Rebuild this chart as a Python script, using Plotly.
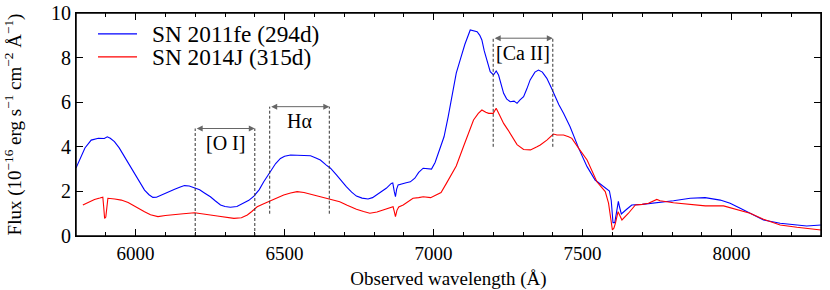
import plotly.graph_objects as go

# ---------------- data ----------------
fe_wave = [5800, 5815, 5830, 5851, 5875, 5895, 5905, 5915, 5929, 5945, 5963, 5980, 5997, 6015, 6030,
           6045, 6058, 6070, 6086, 6110, 6131, 6150, 6164, 6180, 6198, 6215, 6231, 6251, 6268, 6285,
           6300, 6318, 6340, 6363, 6380, 6397, 6415, 6430, 6453, 6470, 6486, 6500, 6520, 6553, 6587,
           6605, 6620, 6640, 6654, 6674, 6690, 6707, 6725, 6741, 6760, 6780, 6795, 6808, 6825, 6841,
           6858, 6863, 6868, 6872, 6876, 6881, 6908, 6922, 6937, 6950, 6965, 6980, 6993, 7005, 7021,
           7035, 7049, 7062, 7076, 7089, 7105, 7123, 7135, 7146, 7155, 7162, 7170, 7179, 7190, 7201,
           7210, 7218, 7225, 7235, 7245, 7257, 7270, 7280, 7290, 7302, 7313, 7324, 7340, 7352, 7365,
           7380, 7395, 7408, 7420, 7436, 7458, 7487, 7515, 7542, 7570, 7590, 7596, 7602, 7608, 7614,
           7620, 7624, 7630, 7648, 7665, 7700, 7749, 7805, 7861, 7911, 7962, 7995, 8029, 8062, 8107,
           8163, 8219, 8252, 8300]
fe_flux = [3.05, 3.5, 3.95, 4.3, 4.38, 4.37, 4.45, 4.38, 4.23, 3.95, 3.56, 3.2, 2.82, 2.42, 2.06,
           1.85, 1.73, 1.74, 1.84, 1.98, 2.1, 2.2, 2.26, 2.24, 2.17, 2.07, 1.93, 1.76, 1.57, 1.39,
           1.32, 1.29, 1.32, 1.47, 1.6, 1.79, 2.08, 2.43, 2.88, 3.25, 3.48, 3.58, 3.63, 3.63, 3.6,
           3.5, 3.41, 3.18, 3.04, 2.74, 2.48, 2.21, 1.97, 1.79, 1.7, 1.66, 1.72, 1.84, 1.98, 2.14,
           2.36, 2.38, 2.0, 1.76, 2.1, 2.29, 2.39, 2.43, 2.59, 2.85, 3.04, 3.02, 3.0, 3.3, 3.95,
           4.45, 5.35, 6.3, 7.3, 7.89, 8.6, 9.24, 9.2, 9.16, 9.0, 8.79, 8.3, 7.89, 7.37, 7.22,
           7.4, 7.22, 6.9, 6.4, 6.15, 6.02, 6.05, 5.95, 6.1, 6.25, 6.6, 7.0, 7.35, 7.44, 7.35,
           7.07, 6.65, 6.25, 5.9, 5.5, 4.9, 3.93, 3.11, 2.51, 2.24, 2.02, 1.6, 0.6, 0.6, 1.2,
           1.55, 1.3, 0.99, 1.2, 1.39, 1.42, 1.49, 1.58, 1.69, 1.72, 1.61, 1.47, 1.24, 1.02, 0.72,
           0.57, 0.49, 0.45, 0.49]

j_wave = [5823, 5840, 5862, 5880, 5890, 5893, 5896, 5900, 5904, 5907, 5930, 5952, 5975, 5997, 6015,
          6030, 6050, 6075, 6100, 6131, 6160, 6198, 6218, 6245, 6274, 6300, 6330, 6355, 6375, 6390,
          6408, 6430, 6453, 6475, 6497, 6520, 6542, 6565, 6587, 6615, 6643, 6660, 6685, 6710, 6741,
          6765, 6786, 6810, 6831, 6850, 6864, 6868, 6872, 6877, 6883, 6898, 6915, 6931, 6950, 6965,
          6990, 7009, 7025, 7043, 7060, 7076, 7100, 7134, 7150, 7162, 7175, 7185, 7200, 7210, 7222,
          7235, 7250, 7263, 7280, 7302, 7325, 7347, 7358, 7380, 7402, 7414, 7436, 7453, 7464, 7487,
          7515, 7548, 7576, 7587, 7594, 7600, 7605, 7610, 7619, 7626, 7632, 7654, 7677, 7700, 7721,
          7749, 7760, 7805, 7861, 7912, 7973, 8006, 8062, 8107, 8163, 8219, 8260, 8300]
j_flux = [1.39, 1.5, 1.64, 1.7, 1.74, 1.3, 0.79, 0.85, 1.5, 1.69, 1.66, 1.61, 1.5, 1.35, 1.2,
          1.09, 0.95, 0.87, 0.92, 0.97, 1.0, 1.04, 0.99, 0.95, 0.9, 0.85, 0.79, 0.82, 0.94, 1.1,
          1.31, 1.45, 1.58, 1.72, 1.84, 1.93, 1.99, 1.95, 1.88, 1.78, 1.69, 1.62, 1.54, 1.38, 1.2,
          1.1, 1.02, 1.08, 1.17, 1.25, 1.31, 1.1, 0.87, 1.15, 1.3, 1.39, 1.55, 1.69, 1.72, 1.76,
          1.72, 1.84, 1.95, 2.36, 2.75, 3.14, 4.0, 5.2, 5.5, 5.65, 5.55, 5.5, 5.5, 5.73, 5.4,
          5.05, 4.75, 4.45, 4.1, 3.88, 3.86, 4.0, 4.08, 4.3, 4.57, 4.53, 4.53, 4.45, 4.38, 3.93,
          3.41, 2.43, 1.99, 1.47, 0.8, 0.27, 0.35, 0.57, 1.09, 0.9, 0.72, 1.02, 1.39, 1.42, 1.47,
          1.64, 1.58, 1.49, 1.43, 1.35, 1.35, 1.24, 1.02, 0.75, 0.49, 0.39, 0.32, 0.27]

series_names = ["SN 2011fe (294d)", "SN 2014J (315d)"]
series_colors = ["#0000ff", "#ff0000"]

line_labels = ["[O I]", "Hα", "[Ca II]"]
line_lo = [6200, 6450, 7200]
line_hi = [6400, 6650, 7400]
line_bottom = [0.0, 1.0, 4.0]
line_top = [4.82, 5.8, 8.87]
label_y = [4.16, 5.17, 8.19]

x_ticks = [6000, 6500, 7000, 7500, 8000]
y_ticks = [0, 2, 4, 6, 8, 10]

FONT = "Liberation Serif"

fig = go.Figure()
for w, f, name, col in zip([fe_wave, j_wave], [fe_flux, j_flux], series_names, series_colors):
    fig.add_trace(go.Scatter(x=w, y=f, mode="lines", name=name, showlegend=False,
                             line=dict(color=col, width=1.1)))

annotations = []
shapes = []
for lab, lo, hi, yb, yt, ly in zip(line_labels, line_lo, line_hi, line_bottom, line_top, label_y):
    for xv in (lo, hi):
        shapes.append(dict(type="line", xref="x", yref="y", x0=xv, x1=xv, y0=yb, y1=yt,
                           line=dict(color="#333333", width=1, dash="3px,2px")))
    annotations.append(dict(x=hi, y=yt, ax=lo, ay=yt, xref="x", yref="y", axref="x", ayref="y",
                            text="", showarrow=True, arrowside="end+start", arrowhead=2,
                            startarrowhead=2, arrowsize=1.2, arrowwidth=1, arrowcolor="#666666"))
    annotations.append(dict(x=(lo + hi) / 2, y=ly, xref="x", yref="y", text=lab, showarrow=False,
                            font=dict(family=FONT, size=20, color="black")))

# legend drawn as key lines + text (paper coordinates)
legend_y = [0.906, 0.803]
for name, col, ly in zip(series_names, series_colors, legend_y):
    shapes.append(dict(type="line", xref="paper", yref="paper", x0=0.0295, x1=0.0819, y0=ly, y1=ly,
                       line=dict(color=col, width=1.3)))
    annotations.append(dict(x=0.0993, y=ly, xref="paper", yref="paper", text=name, showarrow=False,
                            xanchor="left", yanchor="middle",
                            font=dict(family=FONT, size=23.3, color="black")))

# frame around the plotting area
shapes.append(dict(type="rect", xref="paper", yref="paper", x0=0, x1=1, y0=0, y1=1,
                   line=dict(color="black", width=1.5), fillcolor="rgba(0,0,0,0)", layer="above"))

fig.update_layout(
    width=830, height=290,
    margin=dict(l=76, r=9, t=13, b=54),
    paper_bgcolor="white", plot_bgcolor="white",
    font=dict(family=FONT, size=19, color="black"),
    shapes=shapes, annotations=annotations,
    showlegend=False,
)
fig.update_xaxes(range=[5800, 8300], tickvals=x_ticks, ticks="inside", ticklen=7,
                 tickcolor="black", showline=True, linecolor="black", linewidth=1,
                 mirror="allticks", showgrid=False, zeroline=False, automargin=False,
                 minor=dict(dtick=100, ticks="inside", ticklen=4, tickcolor="black", showgrid=False),
                 title=dict(text="Observed wavelength (Å)", font=dict(family=FONT, size=19), standoff=8),
                 tickfont=dict(family=FONT, size=19))
fig.update_yaxes(range=[0, 10], tickvals=y_ticks, ticks="inside", ticklen=7,
                 tickcolor="black", showline=True, linecolor="black", linewidth=1,
                 mirror="allticks", showgrid=False, zeroline=False, automargin=False,
                 title=dict(text="Flux (10<sup>−16</sup> erg s<sup>−1</sup> cm<sup>−2</sup> Å<sup>−1</sup>)",
                            font=dict(family=FONT, size=19), standoff=24),
                 tickfont=dict(family=FONT, size=20))

# remove the browser's default 8px body margin so the figure fills the window exactly
fig.write_html("out.html", config={"displayModeBar": False},
               post_script="document.body.style.margin='0';document.body.style.overflow='hidden';")
